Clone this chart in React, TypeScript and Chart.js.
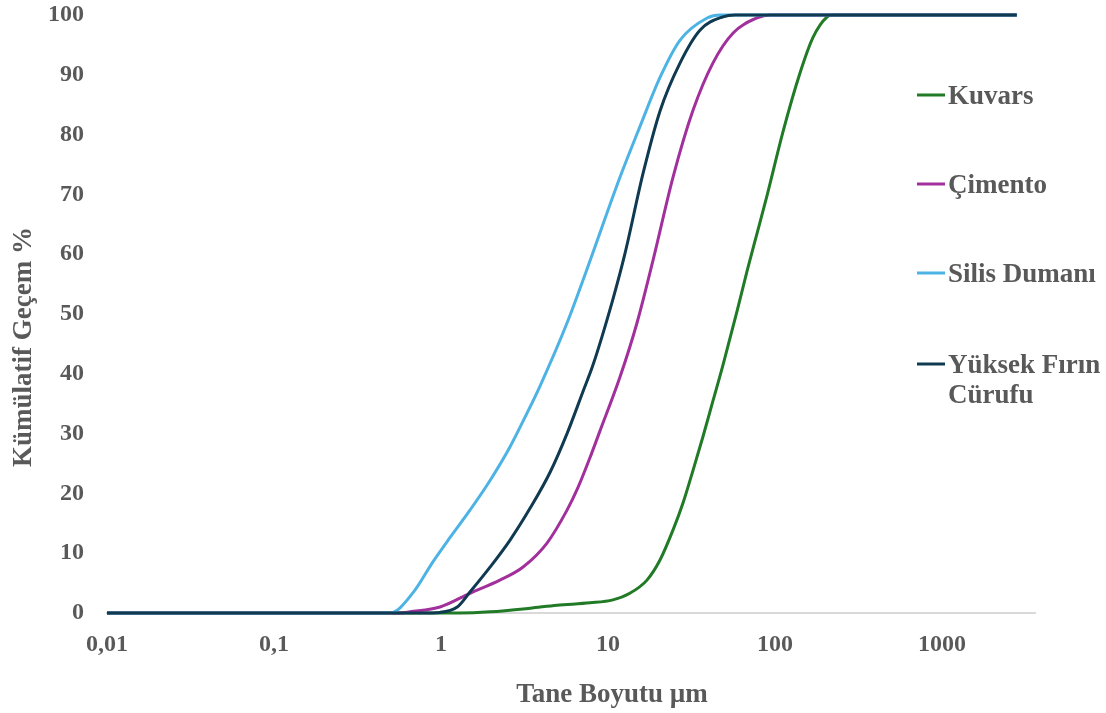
import React, { useEffect, useRef } from 'react';
import { Chart, registerables } from 'chart.js';

Chart.register(...registerables);

// ---- Data ----
const SERIES_NAMES = ['Kuvars', 'Çimento', 'Silis Dumanı', 'Yüksek Fırın Cürufu'];
const LEGEND_LINES = [['Kuvars'], ['Çimento'], ['Silis Dumanı'], ['Yüksek Fırın', 'Cürufu']];
const SERIES_COLORS = ['#217a25', '#a2309c', '#4cb3e4', '#0f3a51'];

const KUVARS_X = [0.01, 1.3, 1.97, 3.41, 4.95, 7.8, 10.7, 13.5, 17.1, 20.5, 24.5, 28.1, 32.3, 37.1, 42.5, 48.8, 59.2, 68, 78, 89.5, 111.6, 141, 169, 205, 222, 2800];
const KUVARS_Y = [0, 0, 0.2, 0.8, 1.3, 1.7, 2.2, 3.3, 5.5, 8.9, 13.9, 18.4, 23.9, 29.6, 35.5, 41.5, 50.5, 57.2, 63.5, 69.8, 80.5, 90.3, 96.3, 99.7, 100, 100];

const CIMENTO_X = [0.01, 0.568, 0.652, 0.986, 1.49, 2.25, 3.1, 4.31, 5.68, 6.61, 7.8, 8.96, 11.8, 14.9, 18.6, 24.5, 32.3, 42.5, 56.1, 78, 93.3, 2800];
const CIMENTO_Y = [0, 0, 0.2, 1.0, 3.3, 5.5, 7.7, 11.7, 17.2, 21, 26, 30.5, 39.5, 48.5, 59, 72.9, 84.1, 92, 97, 99.5, 100, 100];

const SILIS_X = [0.01, 0.495, 0.68, 0.896, 1.13, 1.49, 1.97, 2.59, 3.27, 3.92, 5.68, 7.48, 11.8, 15.5, 20.5, 27, 39.2, 46.9, 2800];
const SILIS_Y = [0, 0, 3.4, 8.6, 12.6, 17.2, 22.2, 27.8, 33.4, 38, 48.5, 57.5, 72.9, 81.3, 89.6, 95.8, 99.5, 100, 100];

const YFC_X = [0.01, 0.78, 0.986, 1.25, 1.49, 1.97, 2.59, 3.41, 4.49, 5.68, 7.07, 8.13, 10.7, 12.6, 16.2, 20.5, 27, 35.6, 48.8, 57.6, 2800];
const YFC_Y = [0, 0, 0.1, 1.0, 3.5, 7.7, 12.2, 17.5, 23.5, 30, 37, 41.5, 52.5, 60, 73.5, 84, 92, 97.5, 99.7, 100, 100];

const X_TICK_VALUES = [0.01, 0.1, 1, 10, 100, 1000];
const X_TICK_LABELS = ['0,01', '0,1', '1', '10', '100', '1000'];
const Y_TICK_VALUES = [0, 10, 20, 30, 40, 50, 60, 70, 80, 90, 100];

const X_TITLE = 'Tane Boyutu µm';
const Y_TITLE = 'Kümülatif Geçem %';

const TEXT_COLOR = '#595959';
const FONT_FAMILY = '"Liberation Serif", "Times New Roman", serif';

const toPoints = (xs: number[], ys: number[]) => xs.map((x, i) => ({ x, y: ys[i] }));

const overlayPlugin = {
  id: 'overlayText',
  afterDraw(chart: any) {
    const ctx = chart.ctx as CanvasRenderingContext2D;
    ctx.save();
    ctx.fillStyle = TEXT_COLOR;
    ctx.font = `bold 27px ${FONT_FAMILY}`;
    ctx.textBaseline = 'alphabetic';

    // x axis title
    ctx.textAlign = 'center';
    ctx.fillText(X_TITLE, 612, 702);

    // y axis title
    ctx.save();
    ctx.translate(31, 347);
    ctx.rotate(-Math.PI / 2);
    ctx.fillText(Y_TITLE, 0, 0);
    ctx.restore();

    // legend
    const legendY = [95, 184, 273, 364];
    ctx.textAlign = 'left';
    LEGEND_LINES.forEach((lines, i) => {
      const y = legendY[i];
      ctx.strokeStyle = SERIES_COLORS[i];
      ctx.lineWidth = 3;
      ctx.beginPath();
      ctx.moveTo(917, y);
      ctx.lineTo(945, y);
      ctx.stroke();
      lines.forEach((t, j) => {
        ctx.fillText(t, 948, y + 9 + j * 30);
      });
    });
    ctx.restore();
  },
};

export default function App() {
  const canvasRef = useRef<HTMLCanvasElement | null>(null);

  useEffect(() => {
    document.body.style.margin = '0';
    const canvas = canvasRef.current;
    if (!canvas) return;

    const seriesX = [KUVARS_X, CIMENTO_X, SILIS_X, YFC_X];
    const seriesY = [KUVARS_Y, CIMENTO_Y, SILIS_Y, YFC_Y];
    const orders = [3, 2, 1, 0];

    const chart = new Chart(canvas, {
      type: 'line',
      data: {
        datasets: SERIES_NAMES.map((name, i) => ({
          label: name,
          data: toPoints(seriesX[i], seriesY[i]),
          borderColor: SERIES_COLORS[i],
          backgroundColor: SERIES_COLORS[i],
          borderWidth: 3,
          pointRadius: 0,
          pointHoverRadius: 0,
          fill: false,
          cubicInterpolationMode: 'monotone',
          tension: 0.4,
          clip: false,
          order: orders[i],
        })),
      },
      options: {
        animation: false,
        responsive: false,
        maintainAspectRatio: false,
        layout: { padding: { top: 15, right: 71, left: 0, bottom: 0 } },
        plugins: {
          legend: { display: false },
          tooltip: { enabled: false },
          title: { display: false },
        },
        scales: {
          x: {
            type: 'logarithmic',
            min: 0.01,
            max: 3600,
            grid: { display: false, drawTicks: false },
            border: { display: true, color: '#d9d9d9', width: 2 },
            ticks: {
              autoSkip: false,
              maxRotation: 0,
              padding: 17,
              color: TEXT_COLOR,
              font: { family: FONT_FAMILY, size: 24, weight: 'bold' },
              callback: (value: any) => {
                const idx = X_TICK_VALUES.findIndex((v) => Math.abs(v - Number(value)) < v * 1e-6);
                return idx >= 0 ? X_TICK_LABELS[idx] : '';
              },
            },
            afterBuildTicks: (scale: any) => {
              scale.ticks = X_TICK_VALUES.map((v) => ({ value: v }));
            },
            afterFit: (scale: any) => {
              scale.height = 100;
              scale.paddingLeft = 0;
              scale.paddingRight = 0;
            },
          },
          y: {
            type: 'linear',
            min: 0,
            max: 100,
            grid: { display: false, drawTicks: false },
            border: { display: false },
            ticks: {
              padding: 23,
              color: TEXT_COLOR,
              font: { family: FONT_FAMILY, size: 24, weight: 'bold' },
            },
            afterBuildTicks: (scale: any) => {
              scale.ticks = Y_TICK_VALUES.map((v) => ({ value: v }));
            },
            afterFit: (scale: any) => {
              scale.width = 107;
              scale.paddingTop = 0;
              scale.paddingBottom = 0;
            },
          },
        },
      },
      plugins: [overlayPlugin],
    } as any);

    return () => {
      chart.destroy();
    };
  }, []);

  return (
    <div style={{ width: 1106, height: 713, position: 'relative', background: '#ffffff' }}>
      <canvas ref={canvasRef} width={1106} height={713} style={{ display: 'block', width: 1106, height: 713 }} />
    </div>
  );
}
